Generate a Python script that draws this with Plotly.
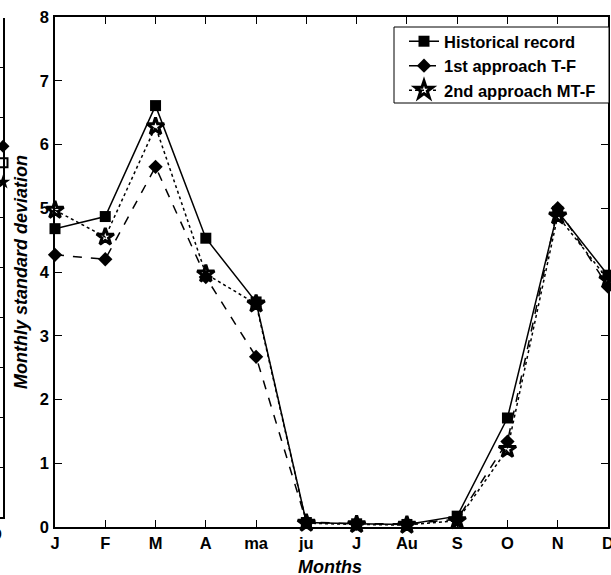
import plotly.graph_objects as go

# Month labels along the x axis
months = ["J", "F", "M", "A", "ma", "ju", "J", "Au", "S", "O", "N", "D"]

# Monthly standard deviation for each series
historical = [4.68, 4.87, 6.61, 4.53, 3.53, 0.07, 0.05, 0.04, 0.17, 1.71, 4.95, 3.95]
approach_tf = [4.27, 4.20, 5.65, 3.92, 2.67, 0.08, 0.05, 0.05, 0.12, 1.34, 5.00, 3.77]
approach_mtf = [4.97, 4.55, 6.28, 3.97, 3.50, 0.06, 0.04, 0.03, 0.10, 1.22, 4.88, 3.88]

# December values of the neighbouring panel (only its right edge is in view)
side_months = ["D"]
side_historical = [7.10]
side_tf = [7.43]
side_mtf = [6.71]

W, H = 611, 575


def fx(px):
    return px / W


def fy(px):
    return 1 - px / H


TICK_FONT = dict(family="Liberation Sans, Arial, sans-serif",
                 size=16.5, color="black", weight="bold")
TITLE_FONT = dict(family="Liberation Sans, Arial, sans-serif", size=18, color="black",
                  weight="bold", style="italic")

x_idx = list(range(len(months)))

fig = go.Figure()

series = [
    ("Historical record", historical, "solid", "square", 11, 0),
    ("1st approach T-F", approach_tf, "dash", "diamond", 11, 0),
    ("2nd approach MT-F", approach_mtf, "dot", "star-open", 13, 3),
]
for name, vals, dash, sym, size, lw in series:
    fig.add_trace(go.Scatter(
        x=x_idx, y=vals, name=name, mode="lines+markers",
        line=dict(color="black", width=1.5, dash=dash),
        marker=dict(symbol=sym, size=size, color="black", line=dict(color="black", width=lw)),
        cliponaxis=False, xaxis="x", yaxis="y",
    ))

# Neighbouring panel: only the December markers at its right edge
side_x = [11] * len(side_months)
for vals, sym, size, lw in [(side_historical, "square-open", 9, 2),
                            (side_tf, "diamond", 10, 0),
                            (side_mtf, "star", 11, 0)]:
    fig.add_trace(go.Scatter(
        x=side_x, y=vals, mode="markers", showlegend=False,
        marker=dict(symbol=sym, size=size, color="black", line=dict(color="black", width=lw)),
        cliponaxis=False, xaxis="x2", yaxis="y2",
    ))

fig.update_layout(
    width=W, height=H, autosize=False,
    margin=dict(l=0, r=0, t=0, b=0),
    paper_bgcolor="white", plot_bgcolor="white",
    xaxis=dict(
        domain=[fx(55), fx(608)], range=[0, 11], anchor="y",
        tickvals=x_idx, ticktext=months, ticks="inside", ticklen=7, tickwidth=1.3,
        tickcolor="black", showline=True, linecolor="black", linewidth=1.6,
        mirror="ticks", showgrid=False, zeroline=False, tickfont=TICK_FONT,
        automargin=False, ticklabeloverflow="allow",
    ),
    yaxis=dict(
        domain=[fy(527), fy(17)], range=[0, 8], anchor="x", dtick=1,
        ticks="inside", ticklen=7, tickwidth=1.3, tickcolor="black",
        showline=True, linecolor="black", linewidth=1.6, mirror="ticks",
        showgrid=False, zeroline=False, tickfont=TICK_FONT, automargin=False,
        ticklabelstandoff=1, ticklabeloverflow="allow",
    ),
    xaxis2=dict(
        domain=[0, fx(3)], range=[10.9, 11], anchor="y2",
        showticklabels=False, ticks="", showline=True, linecolor="black",
        linewidth=1.6, showgrid=False, zeroline=False, automargin=False,
    ),
    yaxis2=dict(
        domain=[fy(517), fy(18)], range=[0, 10], anchor="x2", side="right", dtick=1,
        ticks="inside", ticklen=5, tickwidth=1.3, tickcolor="black",
        showline=True, linecolor="black", linewidth=1.6, showticklabels=False,
        showgrid=False, zeroline=False, automargin=False,
    ),
    legend=dict(
        x=fx(404), xanchor="left", y=fy(24), yanchor="top",
        bgcolor="rgba(0,0,0,0)", borderwidth=0,
        font=TICK_FONT, tracegroupgap=0, itemwidth=30,
    ),
    showlegend=True,
    # legend frame, wider than the entries themselves
    shapes=[
        dict(type="rect", xref="paper", yref="paper",
             x0=fx(394), x1=fx(609), y0=fy(103), y1=fy(27),
             line=dict(color="black", width=1), fillcolor="white", layer="above"),
    ],
    annotations=[
        dict(text="Monthly standard deviation", textangle=-90, x=fx(21), y=fy(272),
             xref="paper", yref="paper", showarrow=False, font=TITLE_FONT,
             xanchor="center", yanchor="middle"),
        dict(text="Months", x=fx(330), y=fy(567), xref="paper", yref="paper",
             showarrow=False, font=TITLE_FONT, xanchor="center", yanchor="middle"),
        dict(text=side_months[0], x=fx(4), y=fy(534), xref="paper", yref="paper",
             showarrow=False, font=TICK_FONT, xanchor="right", yanchor="middle"),
    ],
)

fig.write_html("out.html")
